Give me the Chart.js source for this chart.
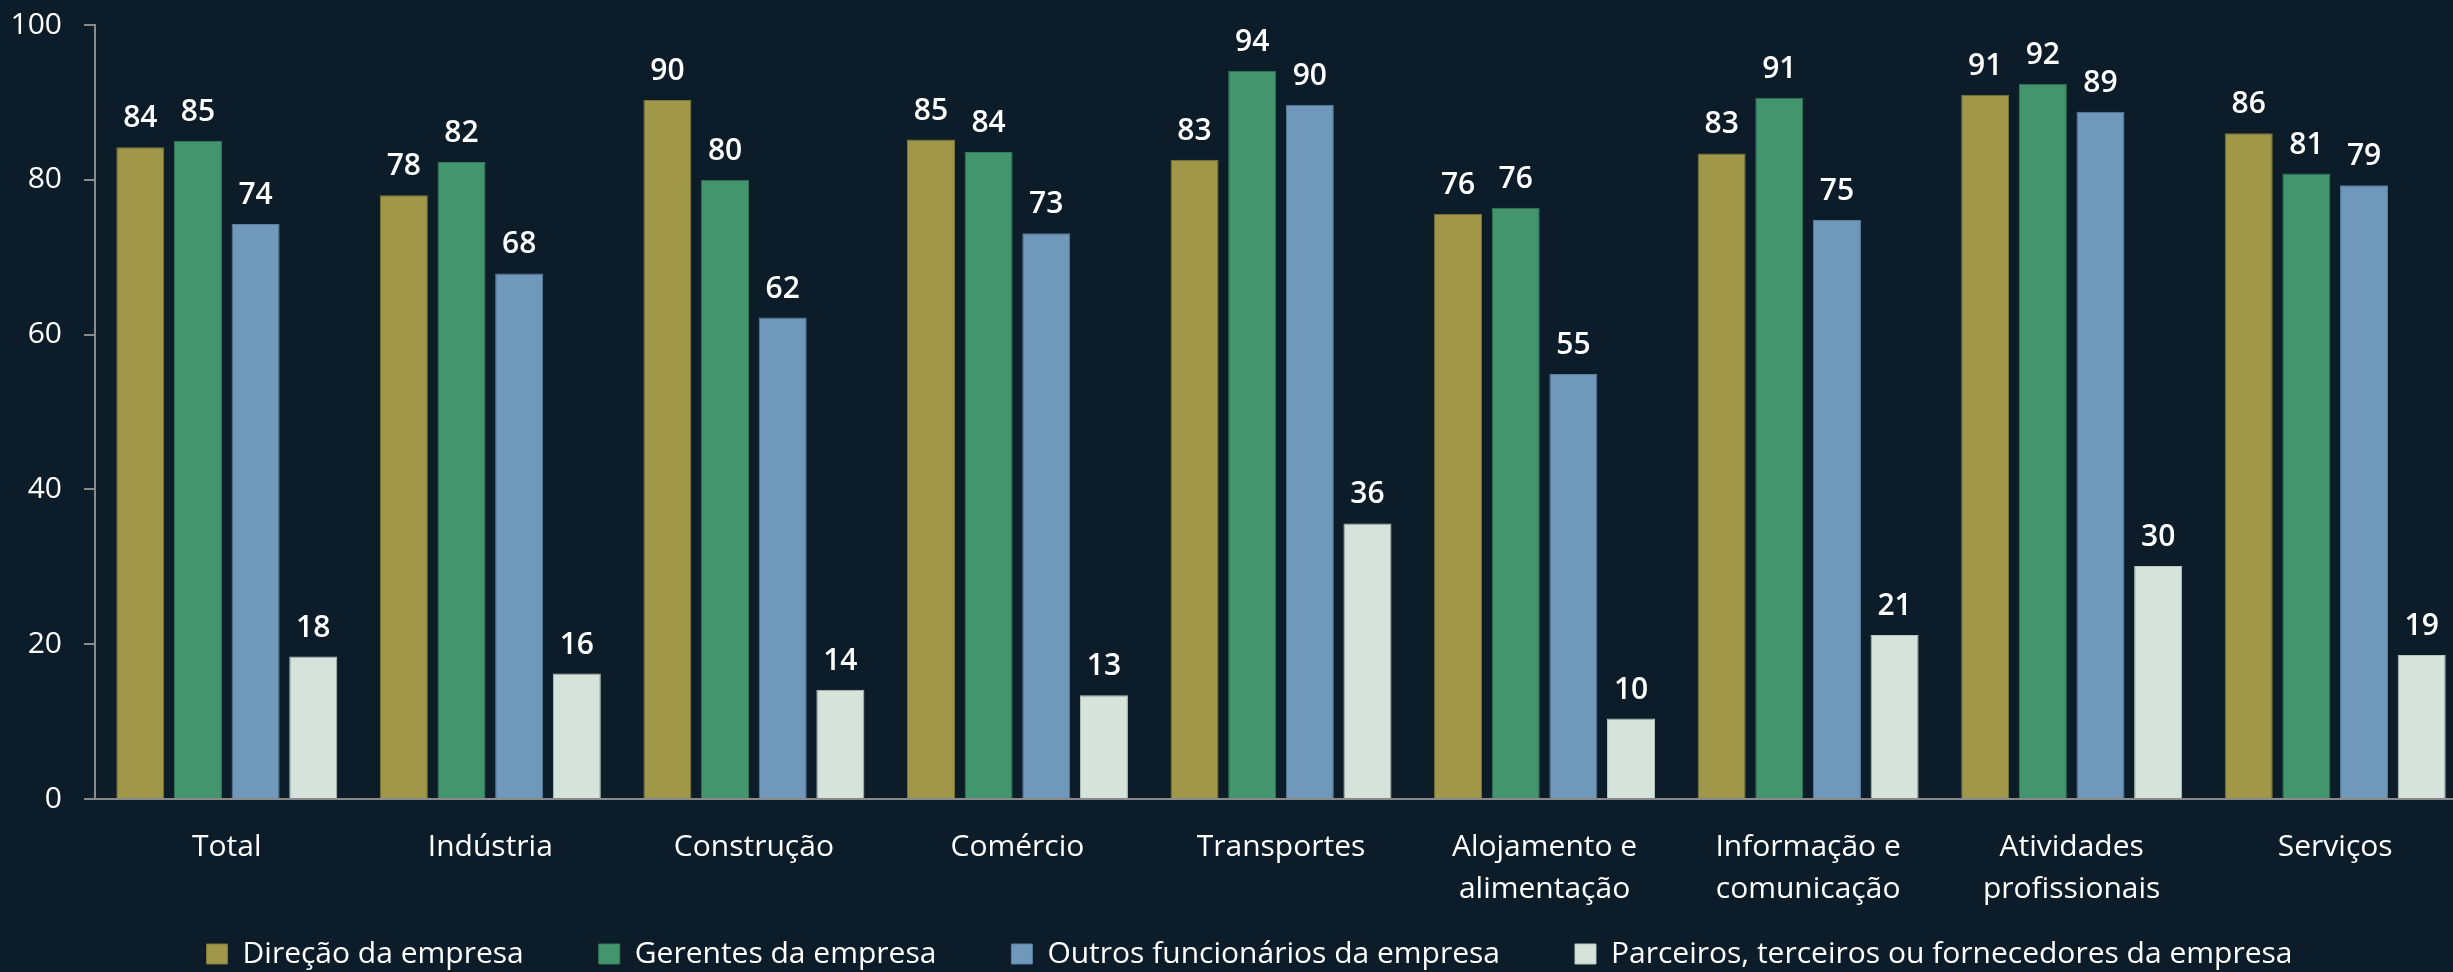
<!DOCTYPE html>
<html><head><meta charset="utf-8">
<script src="https://cdn.jsdelivr.net/npm/chart.js@4/dist/chart.umd.min.js"></script>
<style>html,body{margin:0;padding:0;background:#0c1c28;overflow:hidden;width:2453px;height:972px}</style>
</head><body>
<canvas id="c" width="2467" height="972"></canvas>
<script>
const categories = [['Total'],['Indústria'],['Construção'],['Comércio'],['Transportes'],['Alojamento e','alimentação'],['Informação e','comunicação'],['Atividades','profissionais'],['Serviços']];
const seriesNames = ['Direção da empresa','Gerentes da empresa','Outros funcionários da empresa','Parceiros, terceiros ou fornecedores da empresa'];
const direcao   = [84.2, 78.0, 90.3, 85.2, 82.6, 75.6, 83.4, 91.0, 86.0];
const gerentes  = [85.0, 82.3, 80.0, 83.6, 94.1, 76.4, 90.6, 92.4, 80.8];
const outros    = [74.3, 67.9, 62.2, 73.1, 89.7, 54.9, 74.8, 88.8, 79.3];
const parceiros = [18.4, 16.2, 14.1, 13.4, 35.6, 10.4, 21.2, 30.1, 18.6];
const yTicks = [0, 20, 40, 60, 80, 100];

const colors = ['#a09748','#43956d','#7098bb','#d6e3db'];
const borders = ['#7f7838','#357a58','#5b7f9f','#b9c9bf'];
const FONT = '"Open Sans", "Noto Sans", sans-serif';

const valueLabels = {
  id: 'valueLabels',
  afterDatasetsDraw(chart) {
    const ctx = chart.ctx;
    ctx.save();
    ctx.font = '600 30px ' + FONT;
    ctx.fillStyle = '#ffffff';
    ctx.textAlign = 'center';
    ctx.textBaseline = 'alphabetic';
    chart.data.datasets.forEach((ds, i) => {
      const meta = chart.getDatasetMeta(i);
      meta.data.forEach((el, j) => {
        ctx.fillText(String(Math.round(ds.data[j])), el.x, el.y - 20);
      });
    });
    ctx.restore();
  }
};

// place the legend row below the two-line category labels, centred like the reference
const legendPlacer = {
  id: 'legendPlacer',
  afterLayout(chart) {
    const lg = chart.legend;
    if (!lg) return;
    const h = lg.height;
    lg.top = 864; lg.bottom = 864 + h;
    lg.left = 23; lg.right = 2453 + 23;
  }
};

const seriesData = [direcao, gerentes, outros, parceiros];
new Chart(document.getElementById('c'), {
  type: 'bar',
  data: {
    labels: categories,
    datasets: seriesData.map((d, i) => ({
      label: seriesNames[i],
      data: d,
      backgroundColor: colors[i],
      borderColor: borders[i],
      borderWidth: 1,
      barPercentage: 0.833,
      categoryPercentage: 0.875
    }))
  },
  options: {
    responsive: false,
    devicePixelRatio: 1,
    animation: false,
    layout: { padding: { left: 0, right: 0, top: 25, bottom: -57 } },
    plugins: {
      tooltip: { enabled: false },
      legend: {
        position: 'bottom',
        labels: {
          color: '#ffffff',
          font: { family: FONT, size: 30 },
          boxWidth: 21,
          boxHeight: 20,
          padding: 75
        }
      }
    },
    scales: {
      x: {
        grid: { display: true, drawOnChartArea: false, drawTicks: false },
        border: { display: true, color: '#8a8a8a', width: 2 },
        ticks: { color: '#ffffff', font: { family: FONT, size: 30, lineHeight: 1.4 }, padding: 27, maxRotation: 0, autoSkip: false },
        afterFit(scale) { scale.height = 115; scale.paddingLeft = 0; scale.paddingRight = 0; }
      },
      y: {
        min: 0, max: 100,
        afterBuildTicks(scale) { scale.ticks = yTicks.map(v => ({ value: v })); },
        grid: { display: true, drawOnChartArea: false, drawTicks: true, tickLength: 11, color: '#8a8a8a', lineWidth: 2 },
        border: { display: true, color: '#8a8a8a', width: 2 },
        ticks: { color: '#ffffff', font: { family: FONT, size: 30 }, padding: 22 },
        afterFit(scale) { scale.width = 95; scale.paddingTop = 0; scale.paddingBottom = 0; }
      }
    }
  },
  plugins: [valueLabels, legendPlacer]
});
</script>
</body></html>
